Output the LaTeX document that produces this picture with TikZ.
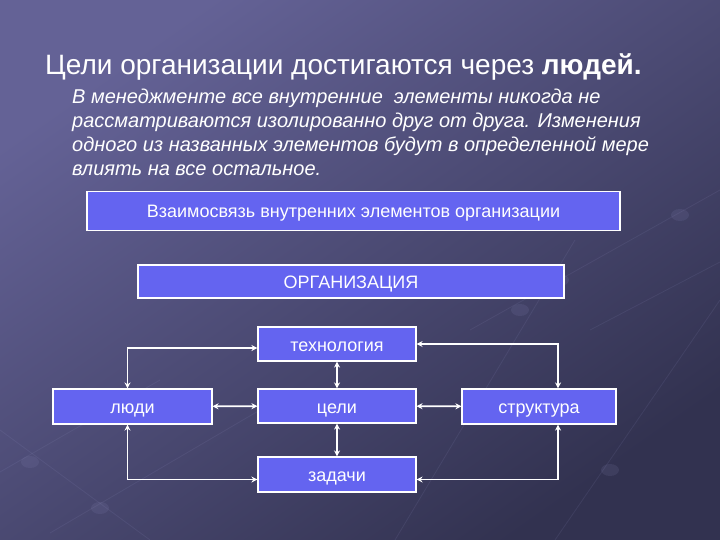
\documentclass[tikz,border=0pt]{standalone}
\usepackage{fontspec}
\setmainfont{Liberation Sans}
\usetikzlibrary{arrows.meta,positioning}
\definecolor{bgtop}{RGB}{100,98,150}
\definecolor{bgbottom}{RGB}{50,50,80}
\definecolor{boxblue}{RGB}{100,100,240}
\definecolor{gridline}{RGB}{150,150,200}

\begin{document}
\begin{tikzpicture}[x=1pt,y=-1pt,
  box/.style={draw=white,line width=1.1pt,fill=boxblue,text=white,
    inner sep=0pt,text height=14pt,text depth=0pt,font=\fontsize{18}{21}\selectfont},
  link/.style={white,line width=1.8pt,{Stealth[length=6pt,width=6pt]}-{Stealth[length=6pt,width=6pt]}},
  decor/.style={gridline,line width=0.8pt,opacity=0.12}
]
  % slide background
  \shade[top color=bgtop,bottom color=bgbottom,shading angle=35] (0,0) rectangle (720,540);
  \useasboundingbox (0,0) rectangle (720,540);
  \draw[decor] (395,540) -- (575,240);
  \draw[decor] (555,540) -- (720,300);
  \draw[decor] (470,330) -- (720,190);
  \draw[decor] (590,330) -- (720,262);
  \draw[decor] (0,472) -- (160,380);
  \draw[decor] (50,533) -- (260,410);
  \draw[decor] (0,430) -- (150,540);
  \foreach \p in {(30,462),(100,508),(520,310),(610,470),(560,280),(680,215)}
    \fill[gridline,opacity=0.12] \p ellipse (9pt and 6pt);

  % heading and text
  \node[anchor=base west,inner sep=0pt,text=white,font=\fontsize{28}{34}\selectfont] (title) at (45,75)
    {Цели организации достигаются через \textbf{людей.}};
  \node[anchor=base west,text=white,align=left,inner sep=0pt,
    font=\fontsize{20}{24}\itshape\selectfont] (intro) at (72,176)
    {В менеджменте все внутренние\ \ элементы никогда не\\
     рассматриваются изолированно друг от друга. Изменения\\
     одного из названных элементов будут в определенной мере\\
     влиять на все остальное.};

  \node[box,minimum width=533pt,minimum height=39pt] (rel) at (353.5,211)
    {Взаимосвязь внутренних элементов организации};
  \node[box,minimum width=426pt,minimum height=33pt] (org) at (351,281.5) {ОРГАНИЗАЦИЯ};

  \node[box,minimum width=158pt,minimum height=34pt] (tech) at (337,344) {технология};
  \node[box,minimum width=158pt,minimum height=34pt] (goals) at (337,406) {цели};
  \node[box,minimum width=158pt,minimum height=35pt] (tasks) at (337,474.5) {задачи};
  \node[box,minimum width=159pt,minimum height=35pt] (people) at (132.5,406.5) {люди};
  \node[box,minimum width=154pt,minimum height=35pt] (struct) at (539,406.5) {структура};

  \draw[link] (people) -- (goals);
  \draw[link] (goals) -- (struct);
  \draw[link] (tech) -- (goals);
  \draw[link] (goals) -- (tasks);
  \draw[link] ([xshift=-5pt]people.north) |- ([yshift=-4pt]tech.west);
  \draw[link] ([xshift=-5pt]people.south) |- ([yshift=-5pt]tasks.west);
  \draw[link] ([xshift=19pt]struct.north) |- (tech.east);
  \draw[link] ([xshift=19pt]struct.south) |- ([yshift=-5pt]tasks.east);
\end{tikzpicture}
\end{document}
